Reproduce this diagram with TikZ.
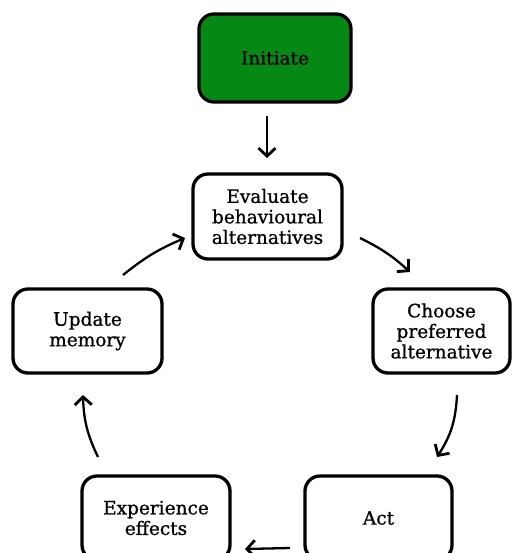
\documentclass[tikz,border=0pt]{standalone}
\usepackage{fontspec}
\setmainfont{DejaVu Serif}[BoldFont={DejaVu Serif}, BoldFeatures={FakeBold=0.8}]
\usetikzlibrary{arrows.meta}
\definecolor{startgreen}{RGB}{6,136,20}
\tikzset{
  stagebox/.style={draw=black, line width=3.3pt, rounded corners=15pt, fill=white,
    minimum width=#1, align=center, font=\bfseries\fontsize{18.5}{20.5}\selectfont, inner sep=0pt},
  stagebox/.default=149pt,
  flow/.style={line width=2.3pt, -{Straight Barb[length=8pt,width=17pt,line width=2.8pt]}},
}
\begin{document}
\begin{tikzpicture}[x=1pt,y=-1pt]
  \useasboundingbox (0,0) rectangle (512,553);
  \begin{scope}
    \clip (0,0) rectangle (512,553);
    % stages of the cycle
    \node[stagebox=152pt, minimum height=88pt, fill=startgreen] (init) at (275,58) {Initiate};
    \node[stagebox, minimum height=85pt] (eval) at (267.5,216.5) {Evaluate\\behavioural\\alternatives};
    \node[stagebox=137pt, minimum height=84pt] (choose) at (441.5,331) {Choose\\preferred\\alternative};
    \node[stagebox, minimum height=84pt] (update) at (87.5,331) {Update\\memory};
    \node[stagebox=147pt, minimum height=84pt] (act) at (378.5,518) {Act};
    \node[stagebox=148pt, minimum height=84pt] (exper) at (156,518) {Experience\\effects};
  \end{scope}
  % arrow end points
  \coordinate (a1) at (267,116);  \coordinate (b1) at (267,158);
  \coordinate (a2) at (360,238);  \coordinate (b2) at (410,272);
  \coordinate (a3) at (457,395);  \coordinate (b3) at (437,457);
  \coordinate (a4) at (290,548);  \coordinate (b4) at (245,549);
  \coordinate (a5) at (98,457);   \coordinate (b5) at (83,395);
  \coordinate (a6) at (123,275);  \coordinate (b6) at (185,238);
  % connectors
  \draw[flow] (a1) -- (b1);
  \draw[flow] (a2) to[bend left=8] (b2);
  \draw[flow] (a3) to[bend left=15] (b3);
  \draw[flow] (a4) -- (b4);
  \draw[flow] (a5) to[bend left=12] (b5);
  \draw[flow] (a6) to[bend left=8] (b6);
\end{tikzpicture}
\end{document}
